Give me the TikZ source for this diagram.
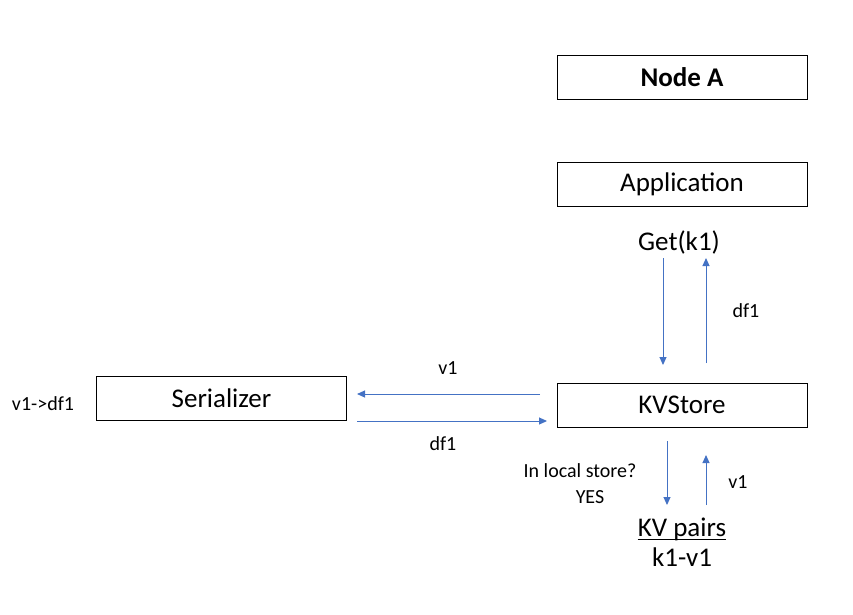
\documentclass[tikz,border=0pt]{standalone}
\usepackage{fontspec}
\setmainfont{Carlito}
\usetikzlibrary{arrows.meta}
\definecolor{arrblue}{RGB}{68,114,196}

\begin{document}
\begin{tikzpicture}[x=1pt,y=-1pt,
    box/.style={draw,line width=1pt,minimum width=250pt,minimum height=44pt,inner sep=0pt,font=\fontsize{27}{32}\selectfont},
    big/.style={inner sep=0pt,font=\fontsize{27}{32}\selectfont},
    small/.style={inner sep=0pt,font=\fontsize{20}{24}\selectfont},
    flow/.style={arrblue,line width=1pt,-{Triangle[length=8pt,width=7pt]}}]
    \useasboundingbox (0,0) rectangle (853,614);
    \node[box,font=\fontsize{27}{32}\selectfont\bfseries] (nodeA) at (682,77) {Node A};
    \node[box] (app) at (682,184) {Application};
    \node[box] (kv) at (682,405) {KVStore};
    \node[box] (ser) at (221.5,398) {Serializer};
    \node[big] (get) at (679,242) {Get(k1)};
    \node[big] (pairs) at (682,529) {KV pairs};
    \draw[line width=1pt] ([yshift=-3pt]pairs.base west) -- ([yshift=-3pt]pairs.base east);
    \node[big] (kv1) at (682,557) {k1-v1};
    \node[small] (conv) at (43,404) {v1->df1};
    \node[small] (vA) at (448,368) {v1};
    \node[small] (dfA) at (443,444) {df1};
    \node[small] (dfB) at (746,311) {df1};
    \node[small] (vB) at (738,482) {v1};
    \node[small] (ask) at (580,471) {In local store?};
    \node[small] (yes) at (590,497) {YES};
    % ends of the arrows
    \coordinate (getD) at (663,258);
    \coordinate (kvD) at (663,365);
    \coordinate (kvU) at (706,363);
    \coordinate (getU) at (706,258);
    \coordinate (kvL) at (540,394);
    \coordinate (serL) at (357,394);
    \coordinate (serR) at (357,421);
    \coordinate (kvR) at (547,421);
    \coordinate (kvB) at (667,441);
    \coordinate (pD) at (667,505);
    \coordinate (pU) at (706,505);
    \coordinate (kvT) at (706,455);
    \draw[flow] (getD) -- (kvD);
    \draw[flow] (kvU) -- (getU);
    \draw[flow] (kvL) -- (serL);
    \draw[flow] (serR) -- (kvR);
    \draw[flow] (kvB) -- (pD);
    \draw[flow] (pU) -- (kvT);
\end{tikzpicture}
\end{document}
